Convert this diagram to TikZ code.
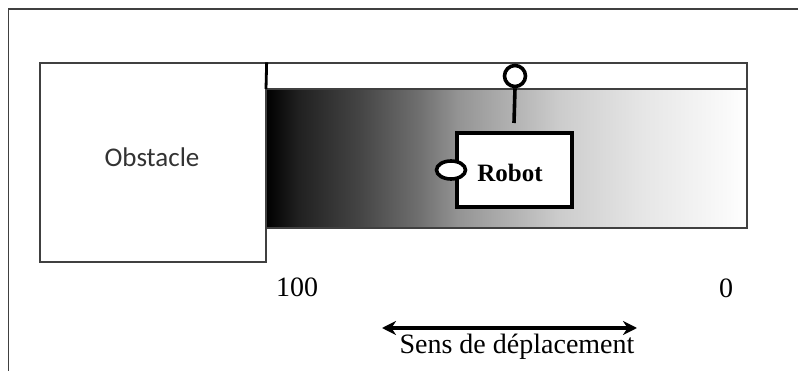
\documentclass[tikz,border=0pt]{standalone}
\usepackage{fontspec}
\setmainfont{Liberation Serif}
\newfontfamily\obstaclefont{Carlito}
\usetikzlibrary{arrows.meta, shapes.geometric}

% gradient of the corridor, black near the obstacle
\pgfdeclarehorizontalshading{corridor}{100bp}{color(0bp)=(black); color(25bp)=(black);
  color(28.5bp)=(black!87); color(34.75bp)=(black!73); color(41bp)=(black!56);
  color(45bp)=(black!42); color(55.5bp)=(black!20); color(64bp)=(black!10);
  color(72bp)=(black!3); color(75bp)=(white); color(100bp)=(white)}

\tikzset{
    thinframe/.style={draw=black!75, line width=1.3pt},
    robotline/.style={draw=black, line width=3.6pt},
    serif28/.style={font=\fontsize{28}{30}\selectfont, anchor=base, inner sep=0pt}
}

\begin{document}
\begin{tikzpicture}[x=1pt, y=-1pt, >={Stealth[length=14pt, width=14pt]}]
    \useasboundingbox (0,0) rectangle (798,371);
    % Frame
    \draw[line width=1.6pt, black!75] (798,9) -- (8.5,9) -- (8.5,371);
    % Corridor
    \shade[shading=corridor] (266,89) rectangle (747,228);
    \draw[thinframe] (266,63) rectangle (747,228);
    \draw[thinframe] (266,89) -- (747,89);
    % Obstacle
    \node[thinframe, minimum width=226pt, minimum height=199pt, inner sep=0pt] (obstacle) at (153,162.5) {};
    \node[font=\obstaclefont\fontsize{27}{30}\selectfont, text=black!80, anchor=base, inner sep=0pt] (obstaclelabel) at (152,167) {Obstacle};
    \draw[line width=2.8pt] (obstacle.north east) -- (266,89);
    % Robot
    \node[robotline, fill=white, minimum width=115pt, minimum height=74pt, inner sep=0pt] (robot) at (514.5,170) {};
    \node[font=\bfseries\fontsize{25}{28}\selectfont, anchor=base, inner sep=0pt] (robotlabel) at (510,182) {Robot};
    % Sensors
    \node[robotline, circle, fill=white, minimum size=21pt, inner sep=0pt] (topsensor) at (515,76) {};
    \coordinate (mastfoot) at (514,123);
    \draw[robotline] (mastfoot) -- (topsensor.south);
    \node[robotline, ellipse, fill=white, minimum width=29pt, minimum height=18pt, inner sep=0pt] (sidesensor) at (451,170) {};
    % Scale and direction
    \node[serif28] (hundred) at (297,297) {100};
    \node[serif28] (zero) at (726,298) {0};
    \coordinate (moveleft) at (382,328);
    \coordinate (moveright) at (637,328);
    \draw[<->, line width=3.6pt] (moveleft) -- (moveright);
    \node[serif28] (direction) at (517,353) {Sens de déplacement};
\end{tikzpicture}
\end{document}
